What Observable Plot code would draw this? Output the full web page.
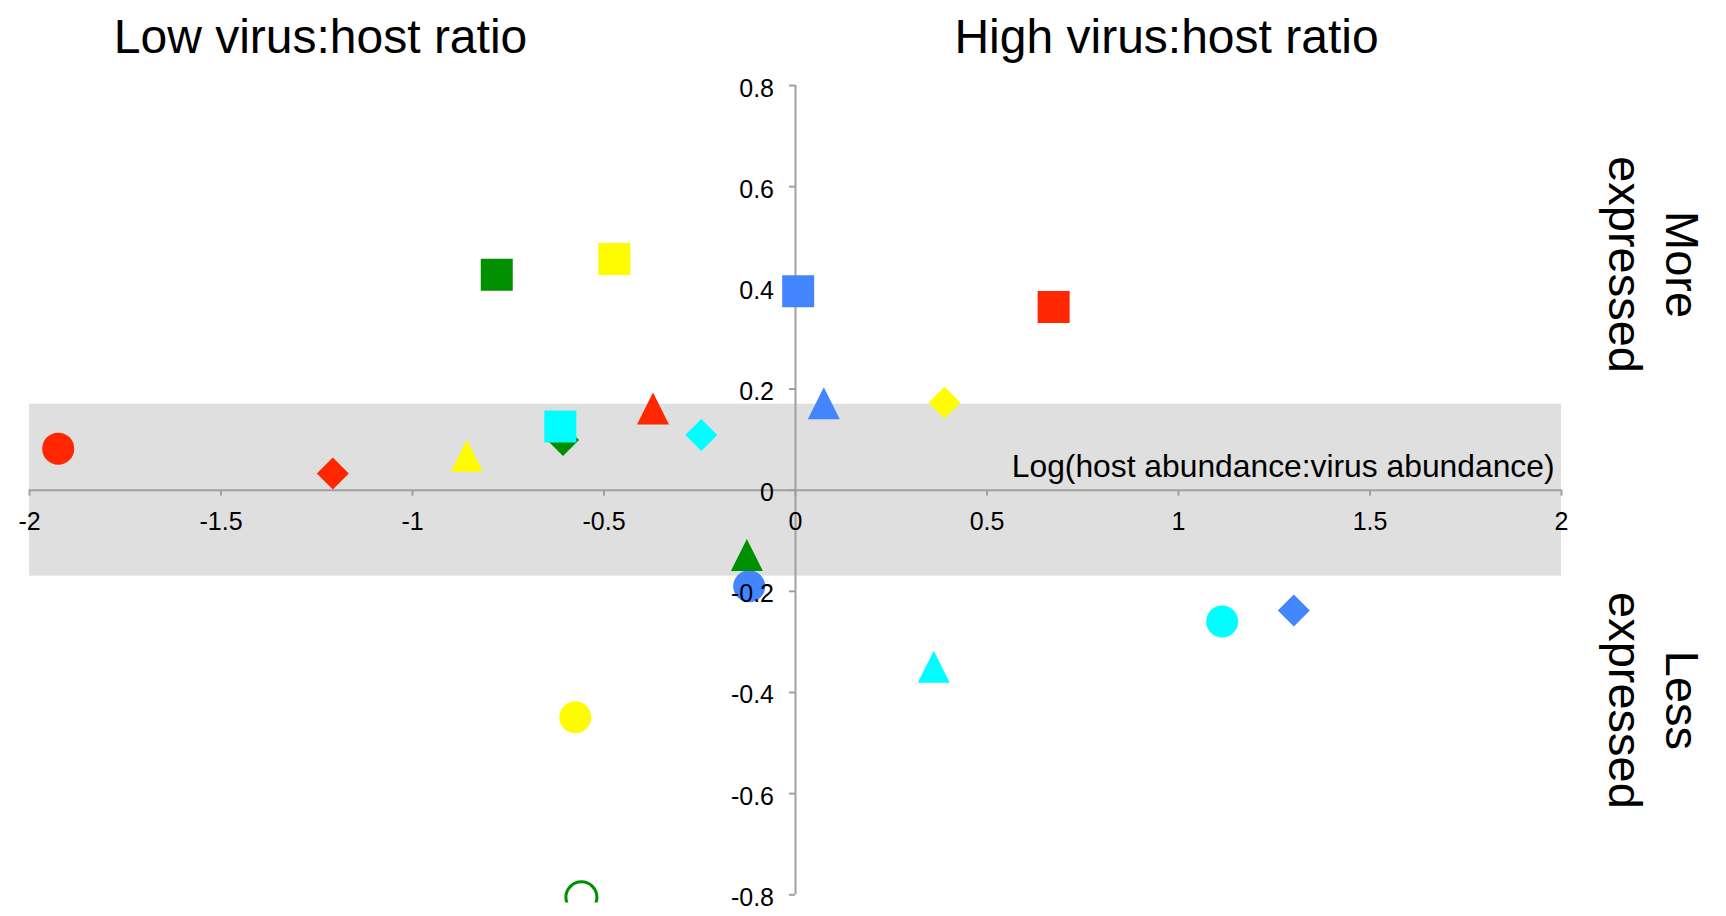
<!DOCTYPE html>
<html>
<head>
<meta charset="utf-8">
<script src="https://cdn.jsdelivr.net/npm/d3@7"></script>
<script src="https://cdn.jsdelivr.net/npm/@observablehq/plot@0.6"></script>
<style>
  html, body { margin: 0; padding: 0; background: #fff; }
  #chart svg { display: block; }
</style>
</head>
<body>
<div id="chart"></div>
<script>
// Marker kinds, in the order the values below are listed for every series
const markerKinds = ["circle", "diamond", "triangle", "square"];

// Log(host abundance : virus abundance) and relative expression, one pair per marker kind
const redRatio        = [-1.925, -1.208, -0.372, 0.674];
const redExpression   = [0.082, 0.033, 0.1615, 0.362];
const greenRatio      = [-0.559, -0.607, -0.127, -0.780];
const greenExpression = [-0.805, 0.099, -0.128, 0.426];
const yellowRatio      = [-0.575, 0.389, -0.858, -0.473];
const yellowExpression = [-0.449, 0.173, 0.068, 0.457];
const cyanRatio       = [1.114, -0.246, 0.361, -0.614];
const cyanExpression  = [-0.2596, 0.109, -0.349, 0.126];
const blueRatio       = [-0.121, 1.301, 0.074, 0.007];
const blueExpression  = [-0.190, -0.238, 0.172, 0.393];

// Series drawn as outline only
const openMarkers = [["green", "circle"]];

// Shaded "unchanged" band of expression
const bandLimits = [-0.17, 0.17];

// Axis ticks
const xTickValues = [-2, -1.5, -1, -0.5, 0, 0.5, 1, 1.5, 2];
const yTickValues = [-0.8, -0.6, -0.4, -0.2, 0, 0.2, 0.4, 0.6, 0.8];

// Annotation text
const leftTitle = "Low virus:host ratio";
const rightTitle = "High virus:host ratio";
const xTitle = "Log(host abundance:virus abundance)";
const upLabel = "More\nexpressed";
const downLabel = "Less\nexpressed";

// Colours of the series
const seriesColors = {
  red: "#ff2600",
  green: "#008f00",
  yellow: "#fffb00",
  cyan: "#00fdff",
  blue: "#4285ff"
};

const seriesData = [
  ["red", redRatio, redExpression],
  ["green", greenRatio, greenExpression],
  ["yellow", yellowRatio, yellowExpression],
  ["cyan", cyanRatio, cyanExpression],
  ["blue", blueRatio, blueExpression]
];

const rows = seriesData.flatMap(([name, ratio, expression]) =>
  markerKinds.map((kind, i) => ({
    series: name,
    kind,
    ratio: ratio[i],
    expression: expression[i],
    color: seriesColors[name],
    open: openMarkers.some(([s, k]) => s === name && k === kind)
  }))
);

// Markers with width == height, sized from the dot radius
const half = (size) => Math.sqrt(size / Math.PI);
const symbols = {
  circle: { draw(c, size) { const h = half(size); c.moveTo(h, 0); c.arc(0, 0, h, 0, 2 * Math.PI); } },
  square: { draw(c, size) { const h = half(size); c.rect(-h, -h, 2 * h, 2 * h); } },
  triangle: { draw(c, size) { const h = half(size); c.moveTo(0, -h); c.lineTo(h, h); c.lineTo(-h, h); c.closePath(); } },
  diamond: { draw(c, size) { const h = half(size); c.moveTo(0, -h); c.lineTo(h, 0); c.lineTo(0, h); c.lineTo(-h, 0); c.closePath(); } }
};

const axisGrey = "#a0a0a0";
const font = "'Liberation Sans', Arial, Helvetica, sans-serif";

const markerMarks = markerKinds.map((kind) =>
  Plot.dot(rows.filter((d) => d.kind === kind && !d.open), {
    x: "ratio",
    y: "expression",
    r: 16,
    symbol: symbols[kind],
    fill: (d) => d.color,
    stroke: "none"
  })
);

const chart = Plot.plot({
  width: 1726,
  height: 916,
  marginLeft: 29,
  marginRight: 165,
  marginTop: 85,
  marginBottom: 21.7,
  x: { domain: [-2, 2], axis: null },
  y: { domain: [-0.8, 0.8], axis: null },
  color: { type: "identity" },
  style: { fontFamily: font, background: "white", color: "black" },
  marks: [
    // shaded band
    Plot.rect([bandLimits], { x1: -2, x2: 2, y1: (d) => d[0], y2: (d) => d[1], fill: "#dfdfdf" }),
    // axes crossing at the origin
    Plot.ruleY([0], { x1: -2, x2: 2, stroke: axisGrey, strokeWidth: 2 }),
    Plot.ruleX([0], { y1: -0.8, y2: 0.8, stroke: axisGrey, strokeWidth: 2 }),
    Plot.ruleX(xTickValues, { x: (d) => d, y1: 0, y2: 0, insetBottom: -6, stroke: axisGrey, strokeWidth: 2 }),
    Plot.ruleY(yTickValues, { y: (d) => d, x1: 0, x2: 0, insetLeft: -6, stroke: axisGrey, strokeWidth: 2 }),
    // data markers
    ...markerMarks,
    Plot.dot(rows.filter((d) => d.open), {
      x: "ratio",
      y: "expression",
      r: 15.5,
      symbol: symbols.circle,
      fill: "none",
      stroke: (d) => d.color,
      strokeWidth: 3
    }),
    // tick labels
    Plot.text(xTickValues, {
      x: (d) => d, y: 0, text: (d) => String(d),
      lineAnchor: "bottom", dy: 40, fontSize: 25, fill: "black"
    }),
    Plot.text(yTickValues, {
      x: 0, y: (d) => d, text: (d) => String(d),
      textAnchor: "end", dx: -21.5, dy: 3, fontSize: 25, fill: "black"
    }),
    // axis title inside the band
    Plot.text([xTitle], {
      x: 2, y: 0, text: (d) => d, textAnchor: "end", lineAnchor: "bottom",
      dx: -7, dy: -13, fontSize: 31.8, fill: "black"
    }),
    // headings over the two halves
    Plot.text([leftTitle], { frameAnchor: "top-left", text: (d) => d, textAnchor: "middle", lineAnchor: "bottom", dx: 291, dy: -33, fontSize: 48, fill: "black" }),
    Plot.text([rightTitle], { frameAnchor: "top-left", text: (d) => d, textAnchor: "middle", lineAnchor: "bottom", dx: 1137, dy: -33, fontSize: 48, fill: "black" }),
    // direction labels on the right
    Plot.text([upLabel], { frameAnchor: "right", text: (d) => d, rotate: 90, textAnchor: "middle", lineAnchor: "middle", dx: 94, dy: -225.6, fontSize: 47, lineHeight: 1.21, fill: "black" }),
    Plot.text([downLabel], { frameAnchor: "right", text: (d) => d, rotate: 90, textAnchor: "middle", lineAnchor: "middle", dx: 94, dy: 210.3, fontSize: 47, lineHeight: 1.21, fill: "black" })
  ]
});

// Markers are cut at the lower edge of the plotting area
const svg = d3.select(chart);
svg.insert("defs", ":first-child").append("clipPath")
  .attr("id", "plot-area")
  .attr("clipPathUnits", "userSpaceOnUse")
  .append("rect").attr("x", 0).attr("y", 0).attr("width", 1726).attr("height", 902);
svg.selectAll("path").each(function () {
  const g = this.parentNode;
  if (g && g.getAttribute("fill") === "none") g.setAttribute("clip-path", "url(#plot-area)");
});

document.getElementById("chart").appendChild(chart);
</script>
</body>
</html>
